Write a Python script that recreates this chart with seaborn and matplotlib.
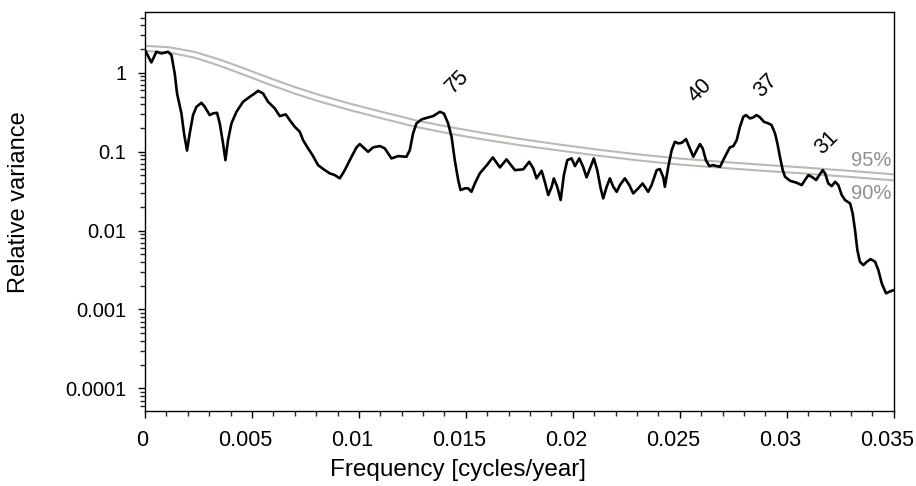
import matplotlib
matplotlib.use("Agg")
import matplotlib.pyplot as plt
import matplotlib.ticker as mticker
import matplotlib.transforms as mtransforms
import pandas as pd
import seaborn as sns

# Smoothed variance spectrum
freq = [0.0, 0.000299, 0.000533, 0.000767, 0.001076, 0.001235, 0.001389, 0.001497,
        0.001702, 0.001824, 0.001964, 0.00209, 0.002245, 0.002404, 0.002638, 0.002792,
        0.003026, 0.00318, 0.003367, 0.003494, 0.003648, 0.00376, 0.003882, 0.004041,
        0.004275, 0.004583, 0.004896, 0.00513, 0.005285, 0.005519, 0.005752, 0.006066,
        0.0063, 0.00658, 0.006767, 0.007001, 0.007235, 0.007389, 0.007623, 0.007829,
        0.00809, 0.008404, 0.008638, 0.008872, 0.009106, 0.009339, 0.009653, 0.009887,
        0.01004, 0.01043, 0.01066, 0.01098, 0.01121, 0.01152, 0.01183, 0.01222,
        0.01238, 0.01253, 0.01269, 0.01293, 0.01324, 0.01347, 0.01378, 0.01397,
        0.01417, 0.01433, 0.01448, 0.01464, 0.01475, 0.01495, 0.01511, 0.01526,
        0.01542, 0.01565, 0.01598, 0.01626, 0.01659, 0.0169, 0.01729, 0.01768,
        0.01796, 0.01815, 0.0183, 0.01854, 0.01869, 0.01885, 0.01901, 0.01911,
        0.01927, 0.01943, 0.01958, 0.01974, 0.01994, 0.0201, 0.0203, 0.02048,
        0.02064, 0.02083, 0.02098, 0.02114, 0.0213, 0.02142, 0.02158, 0.02173,
        0.02189, 0.02205, 0.0222, 0.02243, 0.02264, 0.02282, 0.02306, 0.02326,
        0.02352, 0.02368, 0.02392, 0.02407, 0.02423, 0.0243, 0.02446, 0.02462,
        0.02477, 0.02493, 0.02509, 0.02529, 0.02547, 0.02563, 0.02579, 0.02594,
        0.02607, 0.02622, 0.02638, 0.02656, 0.02672, 0.02688, 0.02703, 0.02719,
        0.02734, 0.0275, 0.02766, 0.02781, 0.02797, 0.02809, 0.02828, 0.02843,
        0.02859, 0.02875, 0.02893, 0.02914, 0.02929, 0.02945, 0.02956, 0.02968,
        0.02981, 0.02992, 0.03015, 0.03046, 0.0307, 0.03085, 0.03101, 0.03121,
        0.03137, 0.03152, 0.03168, 0.03179, 0.03194, 0.0321, 0.03226, 0.03241,
        0.03257, 0.03272, 0.03296, 0.03308, 0.03319, 0.0333, 0.03342, 0.03358,
        0.03374, 0.03392, 0.03413, 0.03428, 0.03444, 0.03464, 0.0348, 0.035]
variance = [1.94, 1.354, 1.846, 1.762, 1.846, 1.676, 0.983, 0.548,
            0.3057, 0.1706, 0.1033, 0.1706, 0.291, 0.3708, 0.4168, 0.3708,
            0.291, 0.3057, 0.3112, 0.2284, 0.1274, 0.0782, 0.1403, 0.2284,
            0.3203, 0.4291, 0.4963, 0.548, 0.5911, 0.548, 0.4291, 0.3538,
            0.2826, 0.297, 0.2514, 0.2068, 0.1788, 0.1403, 0.1101, 0.0906,
            0.0676, 0.0584, 0.0531, 0.0505, 0.0459, 0.0584, 0.0862, 0.1134,
            0.1249, 0.0997, 0.1134, 0.1178, 0.1101, 0.0822, 0.0879, 0.0862,
            0.1048, 0.1706, 0.2284, 0.2566, 0.2721, 0.2826, 0.3203, 0.3057,
            0.2284, 0.1545, 0.0782, 0.0437, 0.0326, 0.0343, 0.0343, 0.031,
            0.0396, 0.0531, 0.0676, 0.0847, 0.0632, 0.0799, 0.0584, 0.0597,
            0.0745, 0.0614, 0.0459, 0.0573, 0.0415, 0.0282, 0.0359, 0.0459,
            0.0359, 0.0244, 0.0505, 0.0782, 0.0822, 0.0657, 0.0822, 0.0644,
            0.0472, 0.0644, 0.0822, 0.0584, 0.0343, 0.0256, 0.0359, 0.0459,
            0.0359, 0.031, 0.0377, 0.0459, 0.0377, 0.0296, 0.0343, 0.0396,
            0.031, 0.0377, 0.0584, 0.0602, 0.047, 0.0359, 0.0644, 0.1048,
            0.1335, 0.1274, 0.1297, 0.1444, 0.1101, 0.0862, 0.1048, 0.1249,
            0.1101, 0.0782, 0.0657, 0.0676, 0.0657, 0.0644, 0.0782, 0.0952,
            0.1134, 0.1178, 0.1403, 0.2068, 0.2769, 0.291, 0.2643, 0.2721,
            0.291, 0.2721, 0.2393, 0.2284, 0.2174, 0.1706, 0.1274, 0.0862,
            0.0584, 0.0481, 0.0428, 0.0404, 0.0377, 0.0437, 0.0505, 0.0472,
            0.0437, 0.0505, 0.0584, 0.0531, 0.0396, 0.0366, 0.0415, 0.0377,
            0.0282, 0.0244, 0.0221, 0.0165, 0.01015, 0.00566, 0.00402, 0.00365,
            0.00402, 0.00435, 0.00402, 0.00316, 0.00214, 0.0016, 0.00168, 0.00176]

# Red-noise confidence levels
sig_freq = [0.0, 0.001155, 0.002324, 0.003494, 0.004663, 0.005832, 0.007001,
            0.00817, 0.009573, 0.01121, 0.01271, 0.01425, 0.01565, 0.01752,
            0.01939, 0.02126, 0.02314, 0.02501, 0.02688, 0.02875, 0.03062,
            0.03296, 0.035]
sig95 = [2.199, 2.105, 1.840, 1.470, 1.130, 0.857, 0.659,
         0.522, 0.407, 0.313, 0.2478, 0.205, 0.1757, 0.1453,
         0.123, 0.1054, 0.0919, 0.0818, 0.0747, 0.0686, 0.0636,
         0.0571, 0.0516]
sig90 = [1.900, 1.803, 1.554, 1.227, 0.935, 0.7085, 0.545,
         0.4315, 0.3367, 0.2589, 0.205, 0.1696, 0.1453, 0.1209,
         0.1033, 0.0885, 0.0771, 0.0686, 0.0627, 0.0576, 0.0534,
         0.0479, 0.0433]

# Periods (years) of the main peaks
peak_labels = ["75", "40", "37", "31"]
peak_freq = [0.01462, 0.02594, 0.02903, 0.03187]
peak_level = [0.762, 0.6035, 0.678, 0.1297]

sig_names = ["95%", "90%"]
sig_label_level = [0.0782, 0.0296]

x_ticks = [0, 0.005, 0.01, 0.015, 0.02, 0.025, 0.03, 0.035]
x_tick_labels = ["0", "0.005", "0.01", "0.015", "0.02", "0.025", "0.03", "0.035"]
y_ticks = [1e-4, 1e-3, 1e-2, 1e-1, 1]
y_tick_labels = ["0.0001", "0.001", "0.01", "0.1", "1"]

spec = pd.DataFrame({"freq": freq, "variance": variance})
levels = pd.DataFrame({"freq": sig_freq, "p95": sig95, "p90": sig90})

sns.set_style("ticks")
plt.rcParams["font.family"] = ["Liberation Sans", "DejaVu Sans"]

fig = plt.figure(figsize=(9.16, 4.86), dpi=100)
ax = fig.add_axes([0.1583, 0.1543, 0.8174, 0.8210])

grey = "#bdb8b3"
sns.lineplot(data=levels, x="freq", y="p95", ax=ax, color=grey, lw=1.5)
sns.lineplot(data=levels, x="freq", y="p90", ax=ax, color=grey, lw=1.5)
sns.lineplot(data=spec, x="freq", y="variance", ax=ax, color="black", lw=1.9)

ax.set_yscale("log")
ax.set_xlim(0, 0.035)
ax.set_ylim(5.16e-5, 5.9)

ax.set_xticks(x_ticks)
ax.set_xticklabels(x_tick_labels)
ax.xaxis.set_minor_locator(mticker.MultipleLocator(0.001))
ax.set_yticks(y_ticks)
ax.set_yticklabels(y_tick_labels)
ax.yaxis.set_minor_locator(mticker.LogLocator(base=10, subs=range(2, 10)))
ax.yaxis.set_minor_formatter(mticker.NullFormatter())

ax.tick_params(which="major", direction="out", length=5, width=1.0, colors="black")
ax.tick_params(which="minor", direction="out", length=3.5, width=1.0)
ax.tick_params(axis="x", which="major", pad=8.5, labelsize=15.5)
ax.tick_params(axis="y", which="major", pad=8.5, labelsize=14.5)
for s in ax.spines.values():
    s.set_linewidth(1.0)
    s.set_color("black")

# x tick labels sit slightly left of their ticks
for lab in ax.get_xticklabels():
    dx = -2 if lab.get_text() == "0" else -5
    lab.set_transform(lab.get_transform() +
                      mtransforms.ScaledTranslation(dx / 72, 0, fig.dpi_scale_trans))

# axis titles: the x title is centred on the figure width
ax.set_xlabel("Frequency [cycles/year]", fontsize=17.5, va="center", color="black")
ax.xaxis.set_label_coords((458 - 145.3) / 748.4, -0.1466)
ax.set_ylabel("Relative variance", fontsize=17, va="center", color="black")
ax.yaxis.set_label_coords(-0.1688, 0.5238)

for lab, fx, fy in zip(peak_labels, peak_freq, peak_level):
    ax.text(fx, fy, lab, rotation=45, ha="center", va="center",
            fontsize=15.5, color="black")
for lab, fy in zip(sig_names, sig_label_level):
    ax.text(0.03393, fy, lab, ha="center", va="center", fontsize=14.5,
            color="#8f8f8f")

fig.savefig("out.png", dpi=100)
